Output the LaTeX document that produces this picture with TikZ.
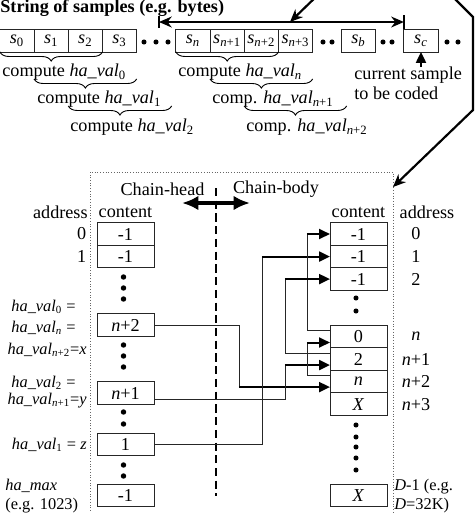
\documentclass[tikz,border=0pt]{standalone}
\usepackage{fontspec}
\setmainfont{Liberation Serif}
\usepackage{tikz}
\usetikzlibrary{positioning,calc,arrows.meta,decorations.pathreplacing}
\tikzstyle{sample} = [rectangle, draw=black!85, line width=0.5pt, minimum width=18.8pt, minimum height=12.6pt, inner sep=0pt, outer sep=0pt]
\tikzstyle{cell} = [rectangle, draw=black!85, line width=0.5pt, minimum width=31.4pt, minimum height=12.4pt, inner sep=0pt, outer sep=0pt]
\tikzstyle{bullet} = [circle, fill=black, inner sep=0pt, minimum size=2.8pt]
\tikzstyle{note} = [inner sep=0pt]
\tikzstyle{side} = [inner sep=0pt, anchor=east, font=\fontsize{9}{10}\selectfont]
\tikzstyle{link} = [line width=0.5pt, draw=black!85]
\tikzstyle{arrow} = [line width=1.1pt, -{Triangle[length=6pt,width=5.5pt]}]
\tikzstyle{feed} = [line width=1.2pt, -{Stealth[length=7pt,width=6pt]}]
\tikzstyle{cbrace} = [decorate, decoration={brace, mirror, amplitude=5pt}, line width=0.5pt]
\tikzstyle{divider} = [line width=0.7pt, dash pattern=on 4.5pt off 2.5pt]
\tikzstyle{tableframe} = [densely dotted, draw=black!60, line width=0.5pt]
\newcommand{\hv}[1]{\textit{ha\_val}\textsubscript{#1}}
\newcommand{\smp}[1]{\textit{s}\textsubscript{#1}}

\begin{document}
\begin{tikzpicture}[x=0.55pt, y=-0.55pt]
\useasboundingbox (0,0) rectangle (474,513);

% string of samples
\node (Title) [note, anchor=west, font=\bfseries] at (0,8) {String of samples (e.g. bytes)};
\node (S0) [sample] at (17,40.5) {\smp{0}};
\node (S1) [sample, right=0pt of S0] {\smp{1}};
\node (S2) [sample, right=0pt of S1] {\smp{2}};
\node (S3) [sample, right=0pt of S2] {\smp{3}};
\node (Sn) [sample] at (193,40.5) {\smp{\textit{n}}};
\node (Sn1) [sample, right=0pt of Sn] {\smp{\textit{n}+1}};
\node (Sn2) [sample, right=0pt of Sn1] {\smp{\textit{n}+2}};
\node (Sn3) [sample, right=0pt of Sn2] {\smp{\textit{n}+3}};
\node (Sb) [sample] at (358.5,40.5) {\smp{\textit{b}}};
\node (Sc) [sample] at (421,40.5) {\smp{\textit{c}}};
\foreach \x in {144,156,168,323,332,383,392,447,458}
  \node [bullet] at (\x,42) {};

% search window
\coordinate (RangeL) at (159,22);
\coordinate (RangeR) at (Sc.west |- RangeL);
\draw [line width=1.1pt, {Stealth[length=7pt,width=6pt]}-{Stealth[length=7pt,width=6pt]}] (RangeL) -- (RangeR);
\draw [line width=0.8pt] ($(RangeL)+(0,-6)$) -- ($(RangeL)+(0,6)$);
\draw [line width=0.8pt] ($(RangeR)+(0,-7)$) -- ($(RangeR)+(0,7)$);
\coordinate (Feed) at (321,-8);
\coordinate (FeedEnd) at (290,22);
\draw [feed] (Feed) -- (FeedEnd);

% hash values
\draw [cbrace] (S0.south west) -- (S2.south east);
\draw [cbrace] ($(S1.south west)+(0,27)$) -- ($(S3.south east)+(0,27)$);
\draw [cbrace] ($(S2.south west)+(0,54)$) -- ($(S3.south east)+(35,54)$);
\node [note, anchor=west] at (2,72) {compute \hv{0}};
\node [note, anchor=west] at (37,99) {compute \hv{1}};
\node [note, anchor=west] at (70,127) {compute \hv{2}};
\draw [cbrace] (Sn.south west) -- (Sn2.south east);
\draw [cbrace] ($(Sn1.south west)+(0,27)$) -- ($(Sn3.south east)+(0,27)$);
\draw [cbrace] ($(Sn2.south west)+(0,54)$) -- ($(Sn3.south east)+(34,54)$);
\node [note, anchor=west] at (178,72) {compute \hv{\textit{n}}};
\node [note, anchor=west] at (212,99) {comp. \hv{\textit{n}+1}};
\node [note, anchor=west] at (246,127) {comp. \hv{\textit{n}+2}};

% current sample
\node (Cur) [note, anchor=north west, align=left] at (354,67) {current sample\\[-1pt]to be coded};
\draw [arrow] (Cur.north -| Sc.south) -- (Sc.south);

% hash table
\coordinate (Loop) at (449,-7);
\coordinate (TableIn) at (393,187);
\draw [feed] (Loop) -- (473,17) -- (473,110) -- (TableIn);
\draw [tableframe] (90,530) -- (90,172) -- (393,172) -- (393,530);
\node (Head) [note] at (162.5,189) {Chain-head};
\node (Body) [note] at (276,189) {Chain-body};
\draw [divider] (216,188) -- (216,496);
\coordinate (HeadSide) at (182,203);
\coordinate (BodySide) at (250,203);
\draw [line width=2.4pt, {Latex[length=9pt,width=8pt]}-{Latex[length=9pt,width=8pt]}] (HeadSide) -- (BodySide);

\node [note, anchor=east] at (88,212) {address};
\node [note] at (125.5,212) {content};
\node [note] at (358.5,212) {content};
\node [note] at (427,212) {address};

% chain-head
\node (H0) [cell] at (125.5,234) {-1};
\node (H1) [cell, below=0pt of H0] {-1};
\node (Hx) [cell] at (125.5,325) {\textit{n}+2};
\node (Hy) [cell] at (125.5,393) {\textit{n}+1};
\node (Hz) [cell] at (125.5,444.5) {1};
\node (Hmax) [cell] at (125.5,495.5) {-1};
\node [note, anchor=east] at ($(H0)+(-39,0)$) {0};
\node [note, anchor=east] at ($(H1)+(-39,0)$) {1};
\foreach \y in {277,288,299,345,356,367,412,424,465,476}
  \node [bullet, minimum size=3pt] at (123.5,\y) {};
\node [side] at (76,307) {\hv{0} =};
\node [side] at (76,328) {\hv{\textit{n}} =};
\node [side] at (87,350) {\hv{\textit{n}+2}=\textit{x}};
\node [side] at (76,383) {\hv{2} =};
\node [side] at (87,401) {\hv{\textit{n}+1}=\textit{y}};
\node [side] at (87,445) {\hv{1} = \textit{z}};
\node [side, anchor=west, align=left] at (5,496) {\textit{ha\_max}\\(e.g. 1023)};

% chain-body
\node (B0) [cell] at (358.5,234) {-1};
\node (B1) [cell, below=0pt of B0] {-1};
\node (B2) [cell, below=0pt of B1] {-1};
\node (Bn) [cell] at (358.5,336.5) {0};
\node (Bn1) [cell, below=0pt of Bn] {2};
\node (Bn2) [cell, below=0pt of Bn1] {\textit{n}};
\node (Bn3) [cell, below=0pt of Bn2] {\textit{X}};
\node (BD) [cell] at (358.5,495.5) {\textit{X}};
\foreach \c/\a in {B0/0, B1/1, B2/2, Bn/\textit{n}, Bn1/\textit{n}+1, Bn2/\textit{n}+2, Bn3/\textit{n}+3}
  \node [note] at ($(\c)+(57.5,0)$) {\a};
\foreach \y in {298,311,425,437,447,458,470}
  \node [bullet] at (356,\y) {};
\node [side, anchor=west, align=left] at (394,496) {\textit{D}-1 (e.g.\\\textit{D}=32K)};

% links
\draw [link] (Hx.east) -| ($(Bn2.west)+(-91,5.5)$);
\draw [arrow] ($(Bn2.west)+(-91,5.5)$) -- ($(Bn2.west)+(0,5.5)$);
\draw [link] ($(Hy.east)+(0,6)$) -| ($(Bn1.west)+(-45,6)$);
\draw [arrow] ($(Bn1.west)+(-45,6)$) -- ($(Bn1.west)+(0,6)$);
\draw [link] (Hz.east) -| ($(B1.west)+(-68,0)$);
\draw [arrow] ($(B1.west)+(-68,0)$) -- (B1.west);
\draw [link] ($(Bn.west)+(0,-6)$) -| ($(B0.west)+(-23,0)$);
\draw [arrow] ($(B0.west)+(-23,0)$) -- (B0.west);
\draw [link] ($(Bn1.west)+(0,-6)$) -| ($(B2.west)+(-45,0)$);
\draw [arrow] ($(B2.west)+(-45,0)$) -- (B2.west);
\draw [link] ($(Bn2.west)+(0,-6)$) -| ($(Bn.west)+(-23,6)$);
\draw [arrow] ($(Bn.west)+(-23,6)$) -- ($(Bn.west)+(0,6)$);
\end{tikzpicture}
\end{document}
